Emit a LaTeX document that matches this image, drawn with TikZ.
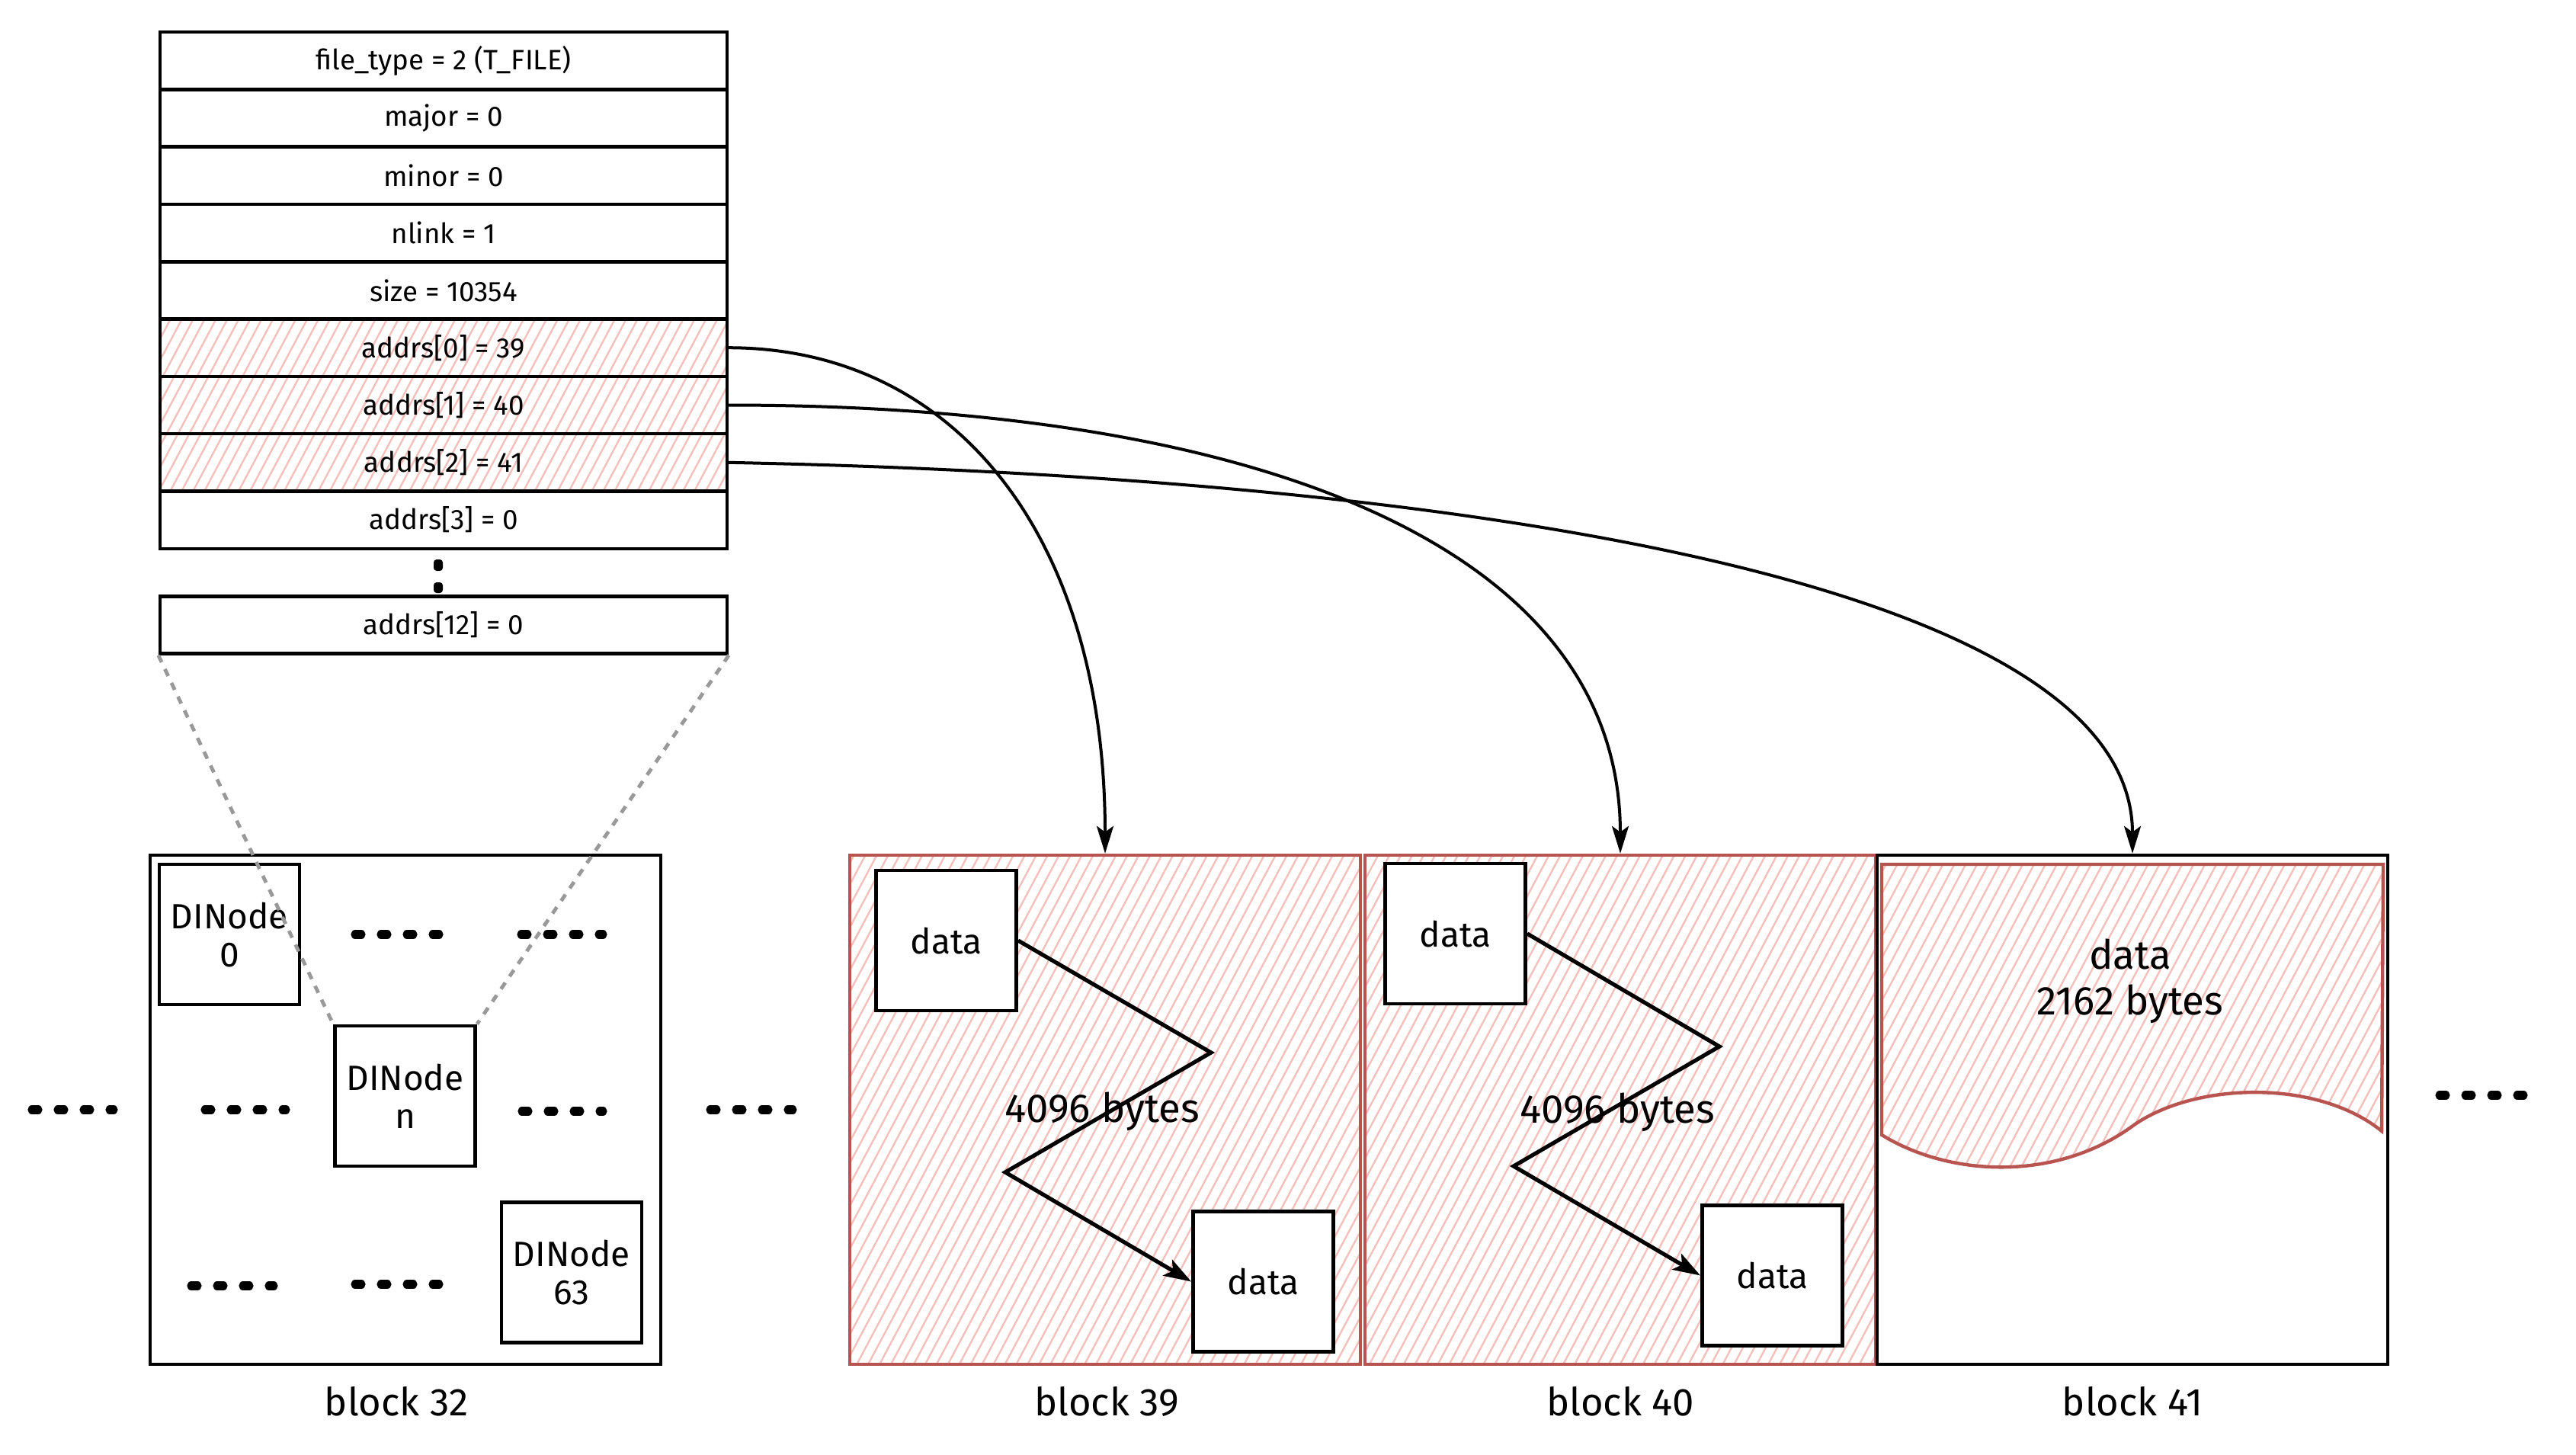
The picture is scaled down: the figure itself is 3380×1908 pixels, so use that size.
\documentclass[tikz,border=0pt]{standalone}
\usepackage{fontspec}
\setmainfont{Fira Sans}
\usetikzlibrary{arrows.meta,patterns.meta}
\definecolor{redline}{HTML}{B85450}
\definecolor{hatchcol}{HTML}{F4C0BC}
\definecolor{dashgray}{HTML}{999999}
\begin{document}
\begin{tikzpicture}[x=0.25pt,y=-0.25pt,
  rowbox/.style={draw,line width=1.1pt,minimum width=186pt,minimum height=18.8pt,inner sep=0pt,font=\fontsize{9.2}{11}\selectfont},
  hatchfill/.style={pattern={Lines[angle=62,distance=3.3pt,line width=0.6pt]},pattern color=hatchcol},
  blk/.style={draw,line width=1.1pt,minimum width=167.5pt,minimum height=167pt,inner sep=0pt},
  redblk/.style={blk,draw=redline,hatchfill},
  smallbox/.style={draw,line width=1.2pt,fill=white,minimum width=46pt,minimum height=46pt,inner sep=0pt,align=center,font=\fontsize{11.5}{12.5}\selectfont},
  lbl/.style={font=\fontsize{12.7}{14}\selectfont},
  big/.style={font=\fontsize{13.2}{15}\selectfont,align=center},
  conn/.style={line width=1pt,-{Stealth[length=9pt,width=5.5pt,inset=2pt]}},
  zig/.style={line width=1.3pt,-{Stealth[length=9pt,width=6pt,inset=2pt]}},
  graydash/.style={draw=dashgray,line width=1.2pt,dash pattern=on 2.5pt off 2.5pt},
  dots/.style={line width=2.8pt,dash pattern=on 2pt off 6.5pt,line cap=round}
]
\fill[white] (0,0) rectangle (3380,1908);
\useasboundingbox (0,0) rectangle (3380,1908);

% inode table
\node[rowbox] (ft) at (582,79.7) {file\_type = 2 (T\_FILE)};
\node[rowbox] (maj) at (582,155) {major = 0};
\node[rowbox] (min) at (582,230.3) {minor = 0};
\node[rowbox] (nl) at (582,305.6) {nlink = 1};
\node[rowbox] (sz) at (582,380.9) {size = 10354};
\node[rowbox,hatchfill] (a0) at (582,456.2) {addrs[0] = 39};
\node[rowbox,hatchfill] (a1) at (582,531.5) {addrs[1] = 40};
\node[rowbox,hatchfill] (a2) at (582,606.8) {addrs[2] = 41};
\node[rowbox] (a3) at (582,682.1) {addrs[3] = 0};
\node[rowbox] (a12) at (582,820) {addrs[12] = 0};
\fill[rounded corners=1pt] (569,734) rectangle (581,749);
\fill[rounded corners=1pt] (569,764) rectangle (581,778);

% blocks
\node[blk] (b32) at (532,1456) {};
\node[redblk] (b39) at (1450,1456) {};
\node[redblk] (b40) at (2126,1456) {};
\node[blk] (b41) at (2798,1456) {};

% block 32 content
\node[smallbox] (dn0) at (301,1226) {DINode\\0};
\node[smallbox] (dnn) at (531.5,1438) {DINode\\n};
\node[smallbox] (dn63) at (750,1669.5) {DINode\\63};
\draw[dots] (466,1226) -- (596,1226);
\draw[dots] (684,1226) -- (791,1226);
\draw[dots] (269,1456) -- (375,1456);
\draw[dots] (685,1458) -- (791,1458);
\draw[dots] (251,1687) -- (359,1687);
\draw[dots] (466,1685) -- (596,1685);
\draw[dots] (42,1456) -- (149,1456);
\draw[dots] (932,1456) -- (1040,1456);
\draw[dots] (3201,1437) -- (3333,1437);

% block 39 content
\node[smallbox] (d39a) at (1241.5,1234) {data};
\node[smallbox] (d39b) at (1657.5,1681.5) {data};
\coordinate (z39a) at (1589,1381);
\coordinate (z39b) at (1319,1538);
\draw[zig] (d39a.east) -- (z39a) -- (z39b) -- (d39b.west);
\node[big] (t39) at (1446,1458) {4096 bytes};

% block 40 content
\node[smallbox] (d40a) at (1909.5,1225) {data};
\node[smallbox] (d40b) at (2325.5,1673.5) {data};
\coordinate (z40a) at (2256,1373);
\coordinate (z40b) at (1986,1530);
\draw[zig] (d40a.east) -- (z40a) -- (z40b) -- (d40b.west);
\node[big] (t40) at (2122,1459) {4096 bytes};

% block 41 content
\draw[draw=redline,line width=1.1pt,hatchfill] (2469,1134) -- (3127,1134) -- (3125,1484)
  .. controls (3040,1415) and (2880,1420) .. (2800,1476)
  .. controls (2700,1550) and (2560,1545) .. (2469,1489) -- cycle;
\node[big] (t41) at (2795,1287) {data\\2162 bytes};

% labels
\node[lbl] (l32) at (520,1839) {block 32};
\node[lbl] (l39) at (1452,1839) {block 39};
\node[lbl] (l40) at (2126,1839) {block 40};
\node[lbl] (l41) at (2798,1839) {block 41};

% dashed zoom lines
\draw[graydash] (a12.south west) -- (dnn.north west);
\draw[graydash] (a12.south east) -- (dnn.north east);

% pointers
\draw[conn] (a0.east) .. controls +(295,0) and +(0,-420) .. (b39.north);
\draw[conn] (a1.east) .. controls +(700,0) and +(0,-400) .. (b40.north);
\draw[conn] (a2.east) .. controls +(945,19) and +(0,-360) .. (b41.north);
\end{tikzpicture}
\end{document}
